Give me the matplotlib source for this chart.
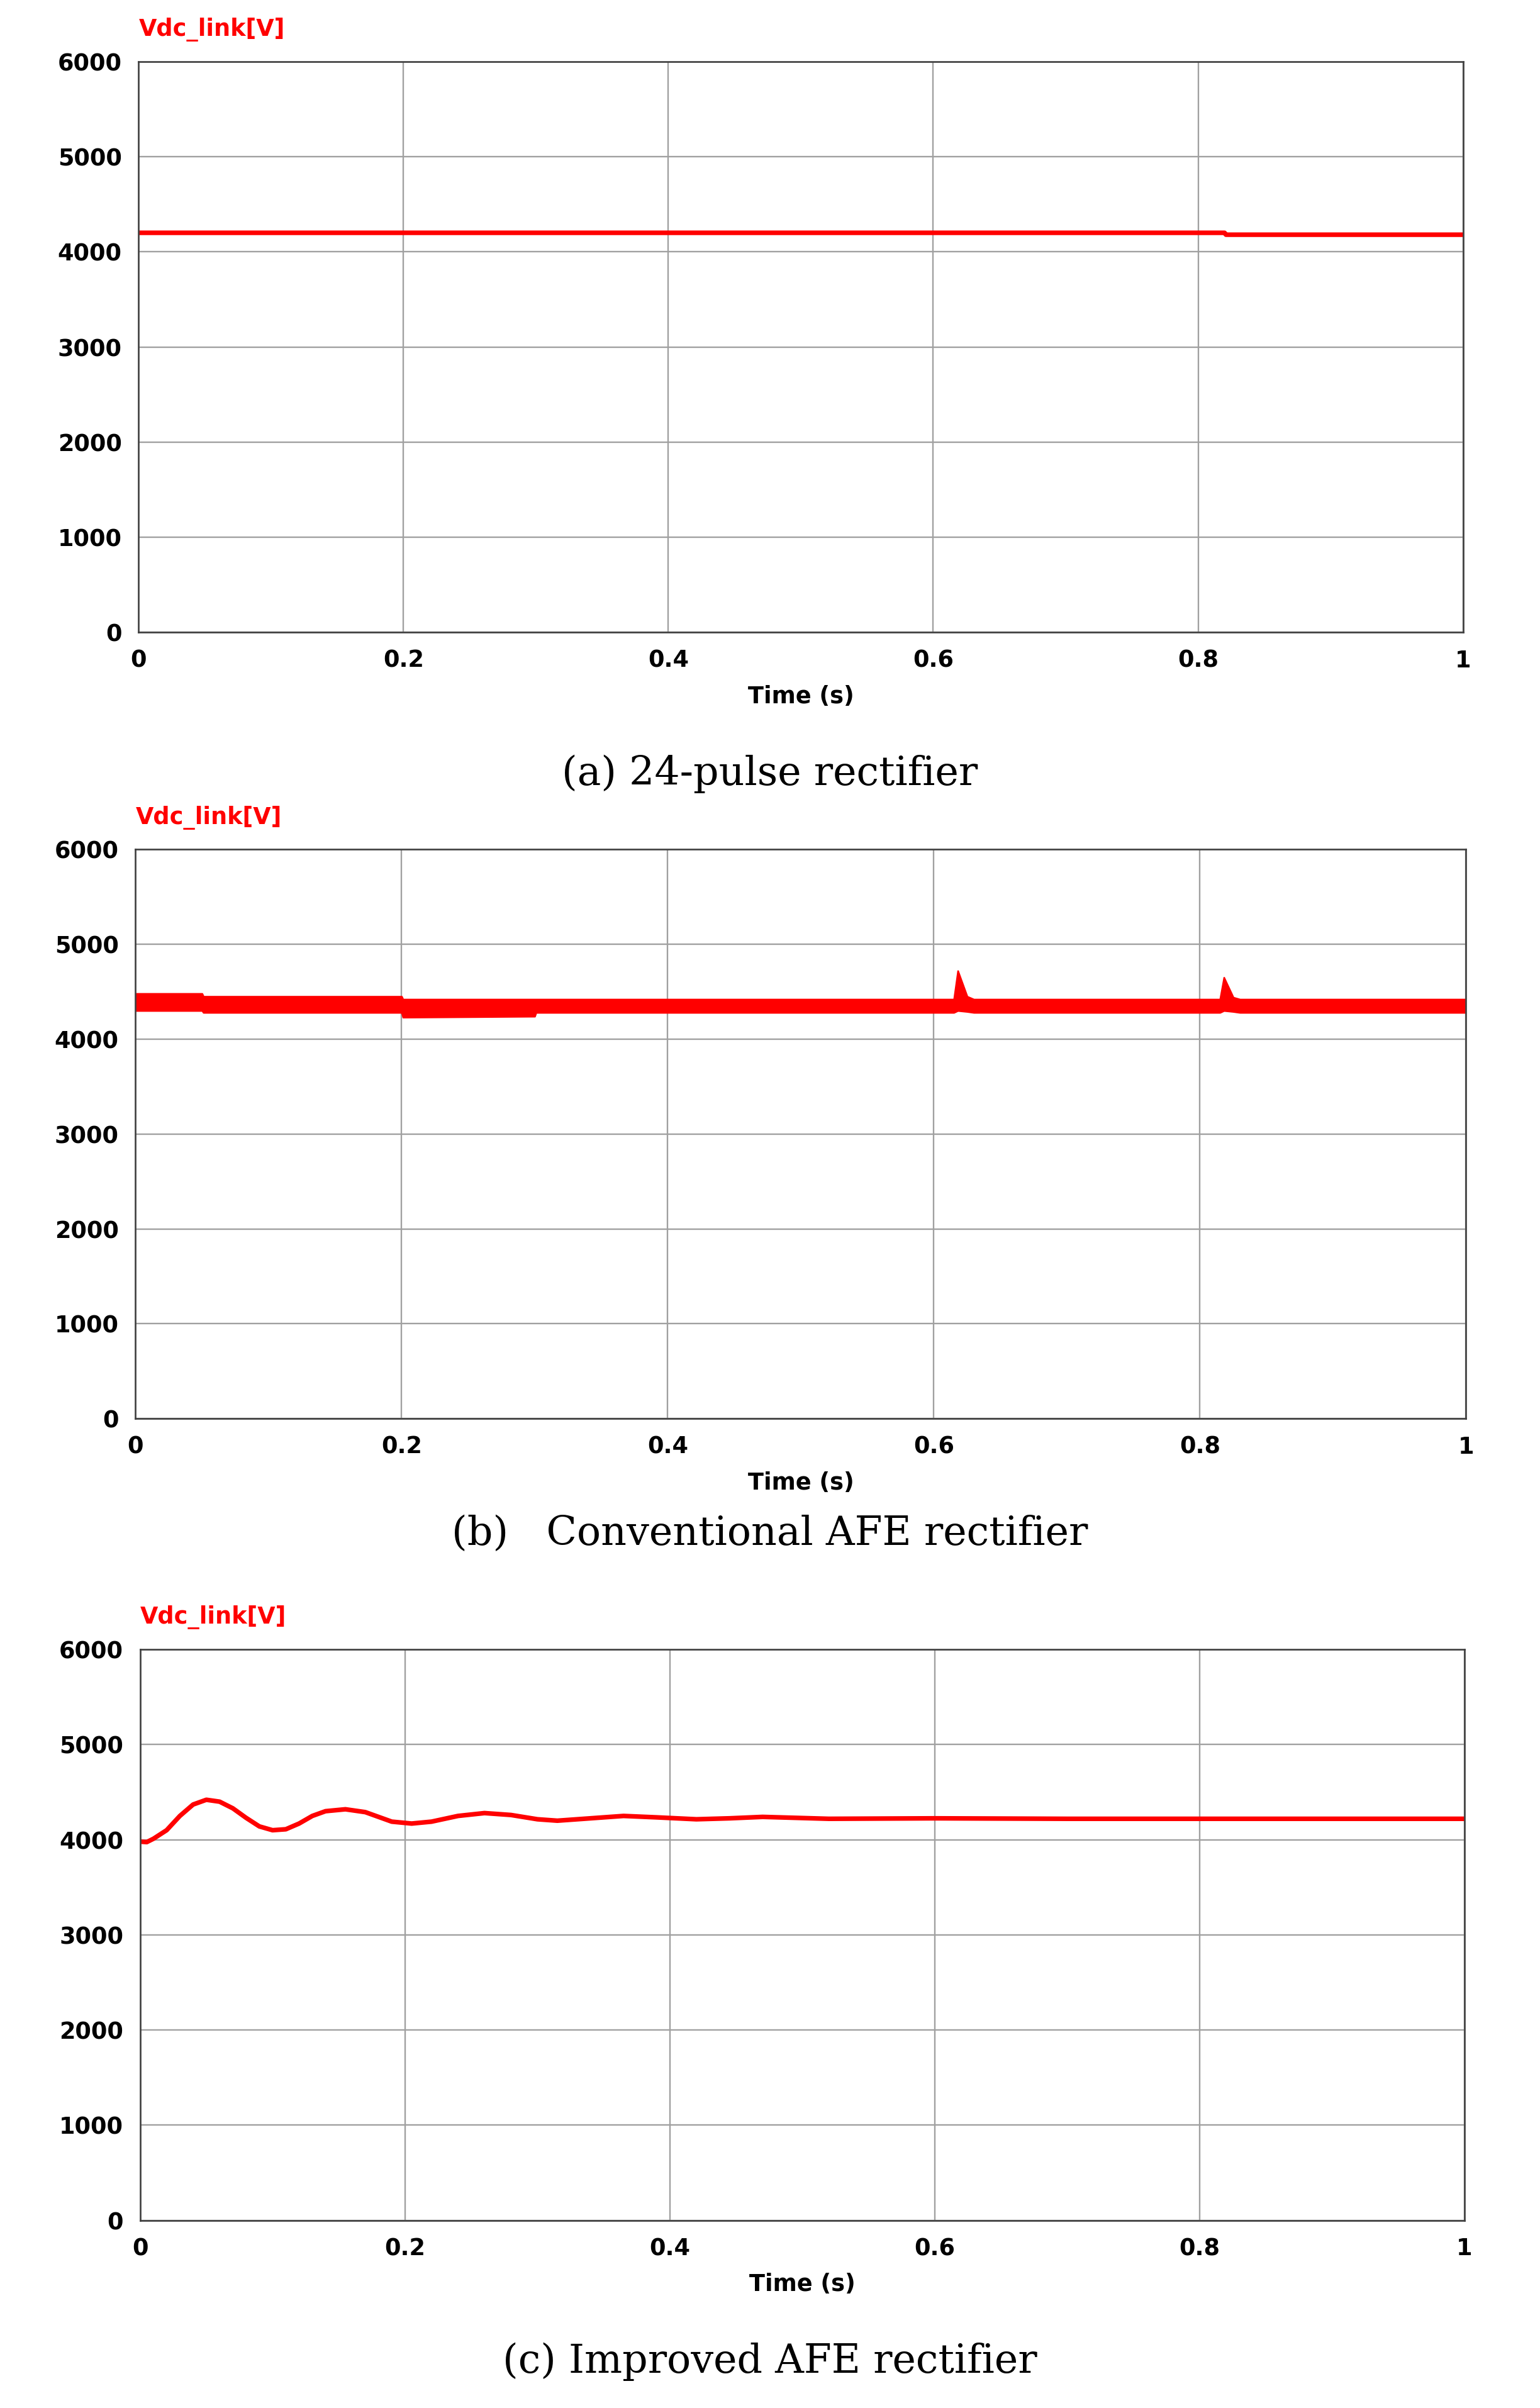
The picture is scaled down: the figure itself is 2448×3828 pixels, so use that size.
import numpy as np
import matplotlib
matplotlib.use("Agg")
import matplotlib.pyplot as plt

# (a) 24-pulse rectifier
t_a = [0.0, 0.82, 0.821, 1.0]
v_a = [4200, 4200, 4180, 4180]

# (b) conventional AFE: ripple envelope
t_b = [0.0, 0.05, 0.051, 0.2, 0.201, 0.3, 0.301, 0.615, 0.618, 0.625, 0.63, 0.815, 0.818, 0.825, 0.83, 1.0]
lo_b = [4300, 4300, 4280, 4280, 4230, 4240, 4280, 4280, 4300, 4290, 4280, 4280, 4300, 4290, 4280, 4280]
hi_b = [4480, 4480, 4450, 4450, 4420, 4420, 4420, 4420, 4720, 4450, 4420, 4420, 4650, 4440, 4420, 4420]

# (c) improved AFE: damped response
t_c = [0.0, 0.005, 0.01, 0.02, 0.03, 0.04, 0.05, 0.06, 0.07, 0.08, 0.09, 0.1, 0.11, 0.12,
       0.13, 0.14, 0.155, 0.17, 0.18, 0.19, 0.205, 0.22, 0.24, 0.26, 0.28, 0.3, 0.315,
       0.34, 0.365, 0.39, 0.42, 0.445, 0.47, 0.495, 0.52, 0.6, 0.7, 1.0]
v_c = [3980, 3975, 4010, 4100, 4250, 4370, 4420, 4400, 4330, 4230, 4140, 4100, 4110, 4170,
       4250, 4300, 4320, 4290, 4240, 4190, 4170, 4190, 4250, 4280, 4260, 4215, 4200,
       4225, 4250, 4235, 4215, 4225, 4240, 4230, 4220, 4225, 4220, 4220]

label_font = "Liberation Sans Narrow"
red = "#ff0000"

fig = plt.figure(figsize=(10.2, 15.95), dpi=240)
H = 1565.0
boxes = [(90, 40, 950, 411), (88, 552, 952, 922), (91, 1072, 951, 1443)]
captions = [(503, "(a) 24-pulse rectifier"), (997, "(b)   Conventional AFE rectifier"),
            (1535, "(c) Improved AFE rectifier")]

axes = []
for (x0, y0, x1, y1) in boxes:
    ax = fig.add_axes([x0 / 1000, 1 - y1 / H, (x1 - x0) / 1000, (y1 - y0) / H])
    axes.append(ax)

axes[0].plot(t_a, v_a, color=red, lw=2.2)
axes[1].fill_between(t_b, lo_b, hi_b, color=red, lw=0.8, edgecolor=red)
axes[2].plot(t_c, v_c, color=red, lw=2.2)

for ax, (y, cap) in zip(axes, captions):
    ax.set_xlim(0, 1)
    ax.set_ylim(0, 6000)
    ax.set_xticks([0, 0.2, 0.4, 0.6, 0.8, 1.0])
    ax.set_xticklabels(["0", "0.2", "0.4", "0.6", "0.8", "1"])
    ax.set_yticks(range(0, 6001, 1000))
    ax.grid(True, color="#a0a0a0", lw=0.7)
    ax.set_axisbelow(True)
    ax.tick_params(length=0, pad=8)
    for lab in ax.get_xticklabels() + ax.get_yticklabels():
        lab.set_fontfamily(label_font)
        lab.set_fontweight("bold")
        lab.set_fontsize(11)
    for s in ax.spines.values():
        s.set_color("#404040")
        s.set_linewidth(0.8)
    ax.set_xlabel("Time (s)", fontfamily=label_font, fontweight="bold", fontsize=11, labelpad=6)
    ax.text(0, 1.035, "Vdc_link[V]", transform=ax.transAxes, color=red,
            fontfamily=label_font, fontweight="bold", fontsize=11, va="bottom")
    fig.text(0.5, 1 - y / H, cap, ha="center", va="center", fontfamily="DejaVu Serif", fontsize=19)

fig.savefig("out.png", dpi=240, facecolor="white")
